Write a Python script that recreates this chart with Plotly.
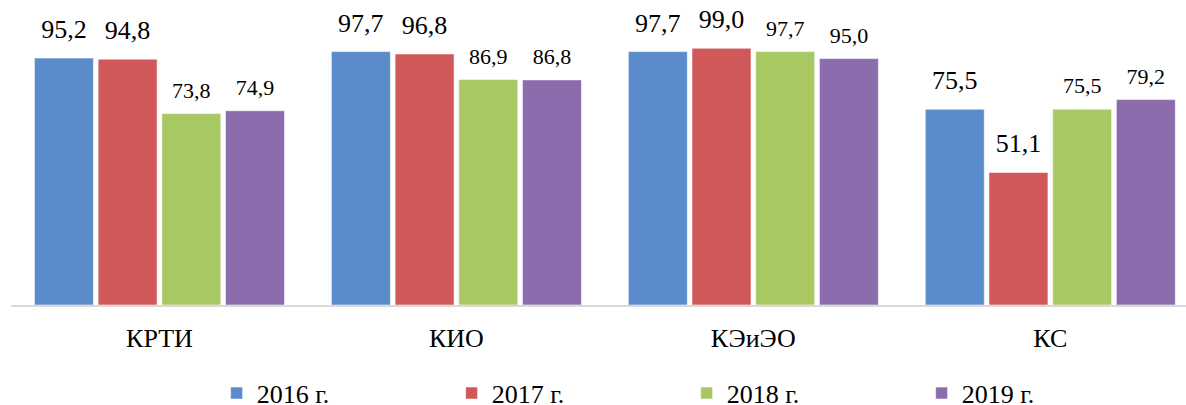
import plotly.graph_objects as go

categories = ["КРТИ", "КИО", "КЭиЭО", "КС"]
years = ["2016 г.", "2017 г.", "2018 г.", "2019 г."]

v2016 = [95.2, 97.7, 97.7, 75.5]
v2017 = [94.8, 96.8, 99.0, 51.1]
v2018 = [73.8, 86.9, 97.7, 75.5]
v2019 = [74.9, 86.8, 95.0, 79.2]

series = [v2016, v2017, v2018, v2019]
colors = ["#5A8BCB", "#D05858", "#A8C864", "#8B6DAD"]
label_sizes = [26, 26, 22, 22]
serif = "'Times New Roman', 'Liberation Serif', 'DejaVu Serif', serif"

fig = go.Figure()

for name, vals, col in zip(years, series, colors):
    fig.add_trace(go.Bar(
        x=categories,
        y=vals,
        name=name,
        marker=dict(color=col, line=dict(color="rgba(255,255,255,0.55)", width=1)),
        offsetgroup=name,
        hoverinfo="skip",
    ))

# value labels, grouped the same way as the bars
# (invisible marker just pushes the text up off the bar)
for name, vals, size in zip(years, series, label_sizes):
    fig.add_trace(go.Scatter(
        x=categories,
        y=vals,
        mode="markers+text",
        text=[f"{v:.1f}".replace(".", ",") for v in vals],
        textposition="top center",
        textfont=dict(family=serif, size=size, color="black"),
        marker=dict(size=20 if size > 24 else 15, color="rgba(0,0,0,0)"),
        offsetgroup=name,
        showlegend=False,
        cliponaxis=False,
        hoverinfo="skip",
    ))

fig.update_layout(
    width=1186,
    height=405,
    barmode="group",
    scattermode="group",
    bargap=0.142,
    scattergap=0.142,
    bargroupgap=0.074,
    plot_bgcolor="white",
    paper_bgcolor="white",
    margin=dict(l=11, r=0, t=0, b=100, autoexpand=False),
    font=dict(family=serif, size=26, color="black"),
    showlegend=True,
    legend=dict(
        orientation="h",
        x=0.175,
        xanchor="left",
        y=-0.212,
        yanchor="top",
        entrywidth=190,
        font=dict(family=serif, size=26, color="black"),
        traceorder="normal",
    ),
)

fig.update_xaxes(
    range=[-0.5, 3.457],
    showline=True,
    linecolor="#D9D9D9",
    linewidth=1.5,
    ticks="",
    showgrid=False,
    ticklabelstandoff=9,
    tickfont=dict(family=serif, size=26, color="black"),
)
fig.update_yaxes(
    range=[0, 117.6],
    visible=False,
    showgrid=False,
)

# the page body has a default 8px margin; drop it so the figure sits at 0,0
fig.write_html(
    "out.html",
    config={"displayModeBar": False},
    post_script="document.body.style.margin = '0';",
)
